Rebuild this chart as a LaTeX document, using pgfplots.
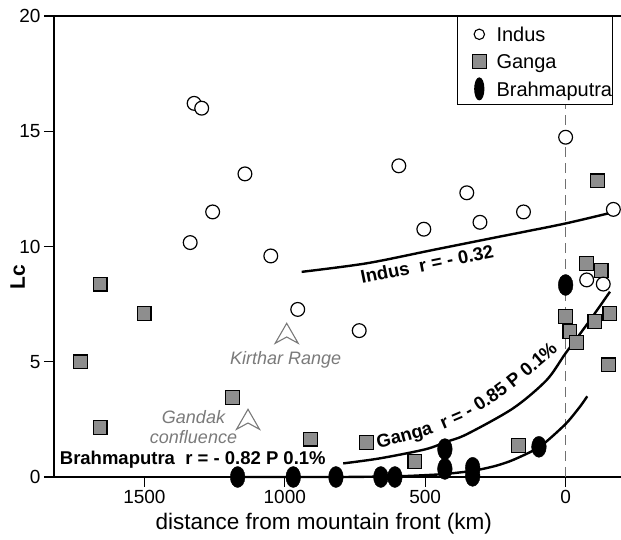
\documentclass[border=0pt]{standalone}
\usepackage{fontspec}
\setmainfont{Liberation Sans}
\usepackage{pgfplots}
\pgfplotsset{compat=1.18}
\usetikzlibrary{decorations.text}
\definecolor{gangafill}{HTML}{8E8E8E}
\definecolor{annot}{HTML}{7A7A7A}
\definecolor{dashgray}{HTML}{707070}
\newcommand\fitfont{\bfseries\fontsize{18.5}{18.5}\selectfont}

\begin{document}
\begin{tikzpicture}
\begin{axis}[
  at={(0,0)}, anchor=south west,
  scale only axis, width=572pt, height=461pt,
  x dir=reverse, xmin=-215, xmax=1822, ymin=0, ymax=20,
  clip=false,
  tick pos=left, tick align=outside,
  major tick length=10pt,
  axis line style={line width=1.2pt},
  tick style={line width=1.2pt, black},
  xtick={0,500,1000,1500}, ytick={0,5,10,15,20},
  tick label style={font=\fontsize{19}{19}\selectfont},
  /pgf/number format/assume math mode=true,
  /pgf/number format/set thousands separator={},
  legend style={at={(0.7051,1)}, anchor=north west, draw=black,
    line width=1pt, fill=white, font=\fontsize{20}{20}\selectfont,
    inner xsep=0pt, inner ysep=3pt, row sep=0pt, column sep=0pt,
    nodes={inner sep=0pt, text height=14.3pt, text depth=0pt}},
  legend cell align=left,
  legend image code/.code={%
    \path (-21pt,-12pt) (9pt,14.3pt);
    \draw[#1] plot coordinates {(0pt,0pt)};},
]
% legend only
\addlegendimage{only marks, mark=*, mark size=5.2pt, mark options={fill=white, draw=black, line width=1.1pt}}
\addlegendentry{\hspace{7.7pt}Indus}
\addlegendimage{only marks, mark=square*, mark size=7pt, mark options={fill=gangafill, draw=black, line width=1.1pt}}
\addlegendentry{\hspace{7.7pt}Ganga}
\addlegendimage{only marks, mark=*, mark size=11pt, mark options={fill=black, draw=black, xscale=0.42}}
\addlegendentry{\hspace{7.7pt}Brahmaputra}

% mountain front
\draw[dashgray, line width=1.2pt, dash pattern=on 10pt off 6pt] (axis cs:0,0) -- (axis cs:0,20);

% trend lines
\addplot[forget plot, black, line width=2.4pt, smooth] coordinates {
  (940,8.9) (709,9.27) (472,9.85) (234,10.43) (163,10.6) (0,11.0) (-150,11.43)
};
\addplot[forget plot, black, line width=2.4pt, smooth] coordinates {
  (792,0.59) (661,0.81) (500,1.2) (424,1.53) (353,1.85) (187,2.98) (68,4.2) (0,5.37) (-79,6.67) (-158,8.04)
};
\addplot[forget plot, black, line width=2.4pt, smooth, tension=0.4] coordinates {
  (1168,0) (800,0) (600,0.03) (500,0.08) (430,0.13) (329,0.27) (250,0.48) (187,0.74) (92,1.31) (0,2.3) (-51,3.05) (-77,3.5)
};

% Brahmaputra
\addplot[forget plot, only marks, mark=*, mark size=10.5pt, mark options={fill=black, draw=black, xscale=0.7}] coordinates {
  (1168,0) (970,0) (818,0) (658,0) (608,0) (430,1.21) (430,0.35) (331,0.4) (331,0.05) (95,1.31) (0,8.33)
};
% Ganga
\addplot[forget plot, only marks, mark=square*, mark size=6.9pt, mark options={fill=gangafill, draw=black, line width=1.2pt}] coordinates {
  (1658,8.37) (1501,7.1) (1727,4.99) (1658,2.16) (1187,3.44) (909,1.64) (709,1.5) (537,0.66) (167,1.36)
  (0,6.95) (-15,6.3) (-39,5.83) (-104,6.74) (-158,7.1) (-152,4.86) (-113,12.85) (-75,9.27) (-126,8.95)
};
% Indus
\addplot[forget plot, only marks, mark=*, mark size=6.9pt, mark options={fill=white, draw=black, line width=1.2pt}] coordinates {
  (1323,16.21) (1296,16.0) (1142,13.15) (1257,11.5) (1337,10.17) (1050,9.59) (0,14.74) (594,13.5) (352,12.33)
  (150,11.5) (305,11.05) (505,10.75) (-170,11.61) (954,7.27) (735,6.35) (-75,8.55) (-134,8.37)
};
\end{axis}

% labels
\node[anchor=base, font=\fontsize{22.5}{22.5}\selectfont] at (269.7pt,-53pt) {distance from mountain front (km)};
\node[rotate=90, anchor=base, font=\bfseries\fontsize{21}{21}\selectfont] at (-29pt,199.5pt) {Lc};

% fit annotations
\node[rotate=11.5, anchor=base, inner sep=0pt, font=\fitfont] at (374.3pt,206.5pt) {Indus\ \ r = - 0.32};
\node[anchor=base west, inner sep=0pt, font=\fitfont] at (5.7pt,12.7pt) {Brahmaputra\ \ r = - 0.82 P 0.1\%};
\begin{scope}[font=\fitfont]
\path[decorate, decoration={text along path, text align=center,
  text={|\fitfont|Ganga{\ }{\ }r = - 0.85 P 0.1{\%}}}]
  (314pt,26.5pt) -- (344pt,33.5pt) -- (366pt,39.5pt) -- (386pt,46.5pt) -- (406pt,55pt) -- (426pt,66pt)
  -- (446pt,79pt) -- (461pt,90pt) -- (476pt,102pt) -- (492pt,115.5pt) -- (512pt,134pt);
\end{scope}

% place annotations
\node[anchor=base west, inner sep=0pt, text=annot, font=\itshape\fontsize{18}{18}\selectfont] at (176pt,112.7pt) {Kirthar Range};
\node[anchor=base, inner sep=0pt, text=annot, font=\itshape\fontsize{18}{18}\selectfont] at (139.5pt,53pt) {Gandak};
\node[anchor=base, inner sep=0pt, text=annot, font=\itshape\fontsize{18}{18}\selectfont] at (139.5pt,33pt) {confluence};
\draw[annot, line width=1.1pt, line join=miter] (232.7pt,153.7pt) -- ++(11.5pt,-20pt) -- ++(-11.5pt,6.3pt) -- ++(-11.5pt,-6.3pt) -- cycle;
\draw[annot, line width=1.1pt, line join=miter] (194pt,67.7pt) -- ++(11.5pt,-20pt) -- ++(-11.5pt,6.3pt) -- ++(-11.5pt,-6.3pt) -- cycle;

\pgfresetboundingbox
\path (-54pt,-63pt) rectangle (567pt,477pt);
\end{tikzpicture}
\end{document}
